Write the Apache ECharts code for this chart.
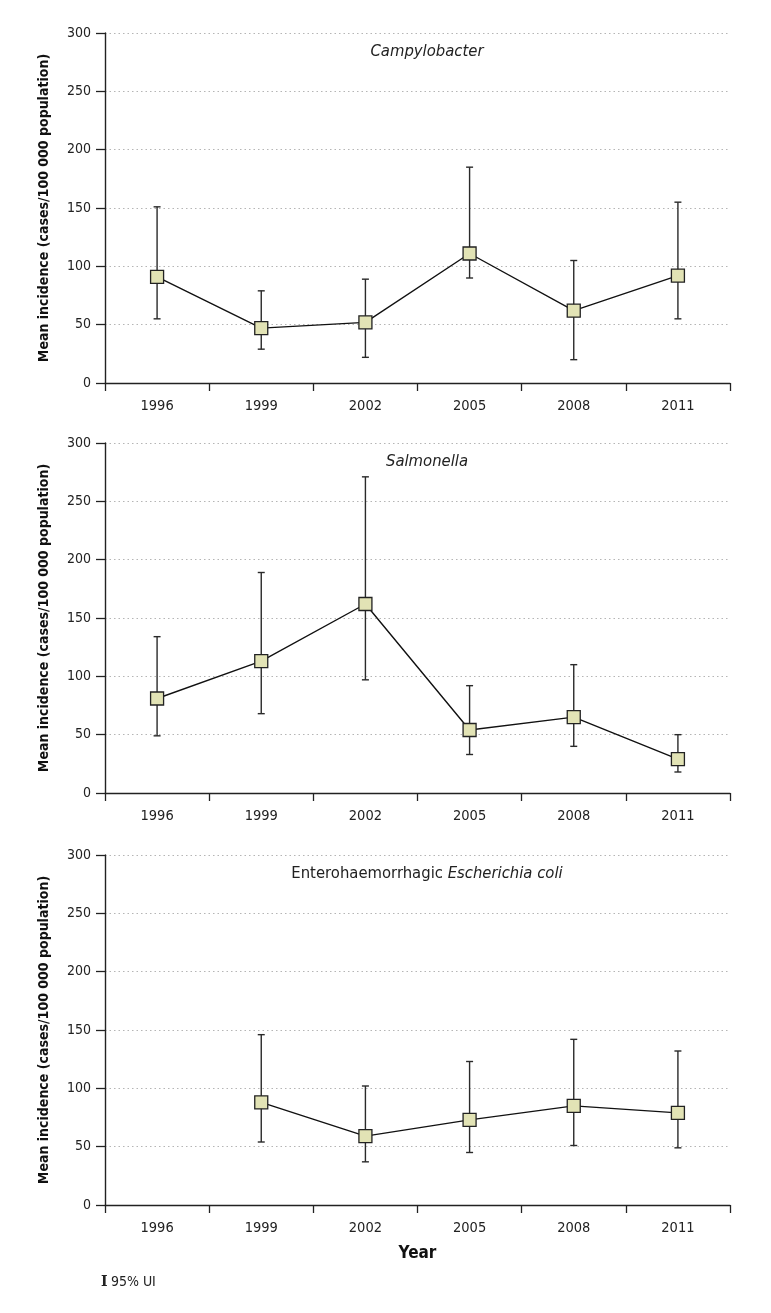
<!DOCTYPE html>
<html><head><meta charset="utf-8">
<script src="https://cdn.jsdelivr.net/npm/echarts@6/dist/echarts.min.js"></script>
<style>html,body{margin:0;padding:0;background:#fff}#c{width:771px;height:1313px}</style>
</head><body><div id="c"></div>
<script>
var years = ['1996','1999','2002','2005','2008','2011'];
var yTicks = [0,50,100,150,200,250,300];
var campyMean = [91, 47, 52, 111, 62, 92];
var campyLow  = [55, 29, 22, 90, 20, 55];
var campyHigh = [151, 79, 89, 185, 105, 155];
var salmMean = [81, 113, 162, 54, 65, 29];
var salmLow  = [49, 68, 97, 33, 40, 18];
var salmHigh = [134, 189, 271, 92, 110, 50];
var ehecMean = [null, 88, 59, 73, 85, 79];
var ehecLow  = [null, 54, 37, 45, 51, 49];
var ehecHigh = [null, 146, 102, 123, 142, 132];

var FONT = '"DejaVu Sans Condensed","Liberation Sans Narrow",Roboto,sans-serif';
var panels = [
  {mean: campyMean, low: campyLow, high: campyHigh, top: 33, title: '{i|Campylobacter}'},
  {mean: salmMean, low: salmLow, high: salmHigh, top: 443, title: '{i|Salmonella}'},
  {mean: ehecMean, low: ehecLow, high: ehecHigh, top: 855, title: '{n|Enterohaemorrhagic }{i|Escherichia coli}'}
];

var grids = [], xAxes = [], yAxes = [], series = [], titles = [];
panels.forEach(function(p, k){
  grids.push({left: 105, right: 41, top: p.top, height: 350});
  xAxes.push({
    type: 'category', gridIndex: k, data: years, boundaryGap: true,
    name: k === 2 ? 'Year' : '', nameLocation: 'middle', nameGap: 40,
    nameTextStyle: {fontFamily: FONT, fontWeight: 'bold', fontSize: 17, color: '#111'},
    axisLine: {lineStyle: {color: '#222', width: 1.4}},
    axisTick: {show: true, length: 8, lineStyle: {color: '#222', width: 1.3}},
    axisLabel: {fontFamily: FONT, fontSize: 14.5, color: '#222', margin: 16},
    splitLine: {show: false}
  });
  yAxes.push({
    type: 'value', gridIndex: k, min: 0, max: 300, interval: 50,
    name: 'Mean incidence (cases/100 000 population)', nameLocation: 'middle', nameGap: 54, nameRotate: 90,
    nameTextStyle: {fontFamily: FONT, fontWeight: 'bold', fontSize: 14, color: '#111'},
    axisLine: {show: true, lineStyle: {color: '#222', width: 1.4}},
    axisTick: {show: true, length: 9, lineStyle: {color: '#222', width: 1.3}},
    axisLabel: {fontFamily: FONT, fontSize: 14, color: '#222', margin: 14},
    splitLine: {show: true, lineStyle: {color: '#b5b5b5', type: [1.5, 3], width: 1.2}}
  });
  var errData = [];
  for (var i = 0; i < years.length; i++) {
    if (p.mean[i] != null) errData.push([i, p.low[i], p.high[i]]);
  }
  series.push({
    type: 'custom', xAxisIndex: k, yAxisIndex: k, z: 2,
    encode: {x: 0, y: [1, 2]},
    data: errData,
    renderItem: function(params, api){
      var x = api.value(0);
      var lo = api.coord([x, api.value(1)]);
      var hi = api.coord([x, api.value(2)]);
      var w = 3.5;
      var st = {stroke: '#2a2a2a', lineWidth: 1.4};
      return {type: 'group', children: [
        {type: 'line', shape: {x1: lo[0], y1: lo[1], x2: hi[0], y2: hi[1]}, style: st},
        {type: 'line', shape: {x1: lo[0]-w, y1: lo[1], x2: lo[0]+w, y2: lo[1]}, style: st},
        {type: 'line', shape: {x1: hi[0]-w, y1: hi[1], x2: hi[0]+w, y2: hi[1]}, style: st}
      ]};
    }
  });
  series.push({
    type: 'line', xAxisIndex: k, yAxisIndex: k, z: 5,
    data: p.mean, connectNulls: false,
    symbol: 'rect', symbolSize: 13, showAllSymbol: true,
    lineStyle: {color: '#111', width: 1.4},
    itemStyle: {color: '#e2e3b5', borderColor: '#222', borderWidth: 1.3},
    emphasis: {disabled: true}, animation: false
  });
  titles.push({
    text: p.title, left: 422, top: p.top + 5, textAlign: 'center',
    textStyle: {fontWeight: 'normal', rich: {
      i: {fontFamily: FONT, fontStyle: 'italic', fontWeight: 'normal', fontSize: 16.5, color: '#222'},
      n: {fontFamily: FONT, fontWeight: 'normal', fontSize: 16.5, color: '#222'}
    }}
  });
});

var chart = echarts.init(document.getElementById('c'), null, {renderer: 'canvas'});
chart.setOption({
  animation: false,
  title: titles,
  grid: grids, xAxis: xAxes, yAxis: yAxes, series: series,
  graphic: [{
    type: 'text', left: 101, top: 1275,
    style: {
      text: '{s|I} {t|95% UI}',
      rich: {
        s: {fontFamily: '"DejaVu Serif",serif', fontSize: 14, fontWeight: 'bold', fill: '#222'},
        t: {fontFamily: FONT, fontSize: 14, fill: '#222'}
      }
    }
  }]
});
</script></body></html>
